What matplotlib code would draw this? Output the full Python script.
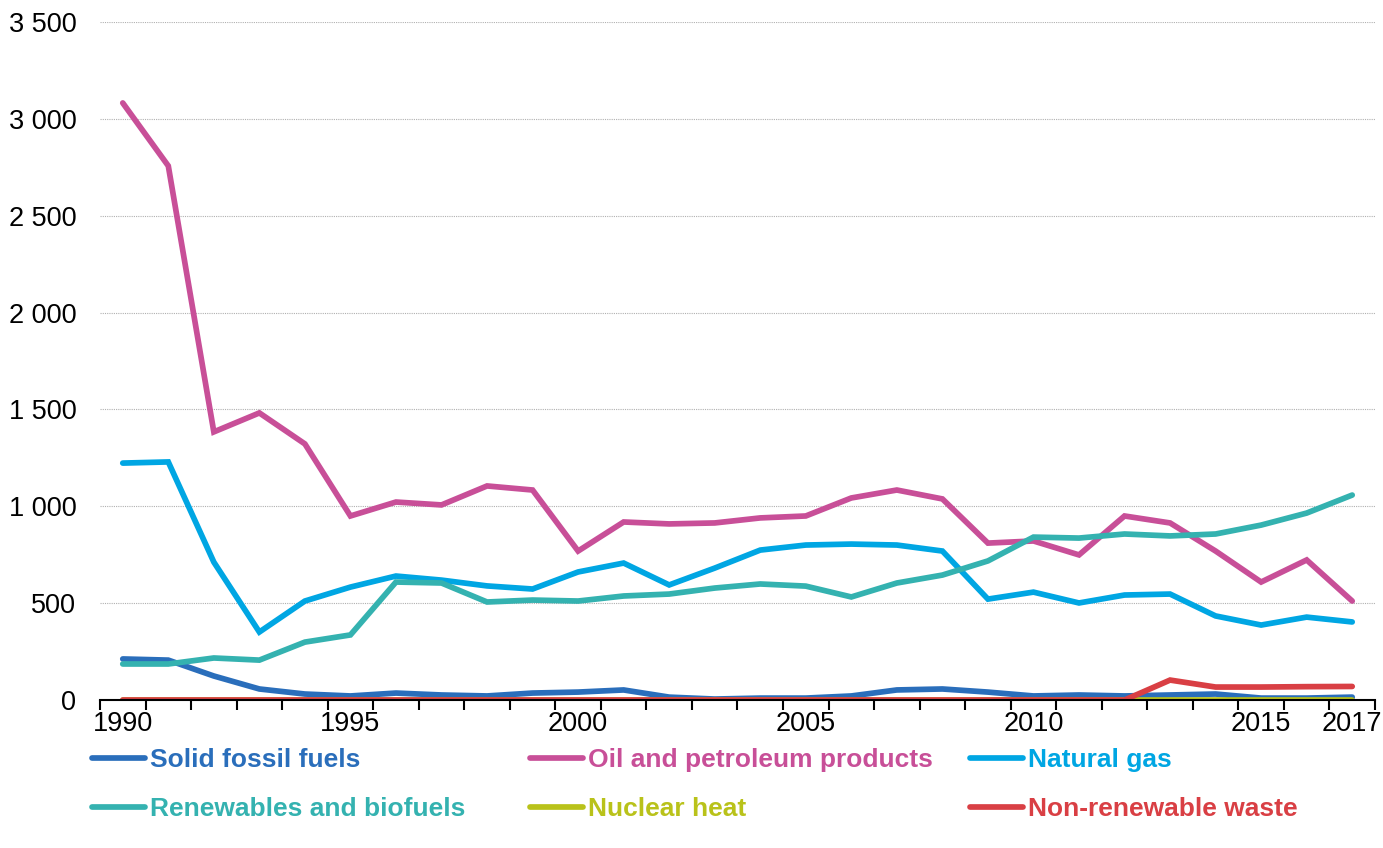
import matplotlib
matplotlib.use("Agg")
import matplotlib.pyplot as plt
from matplotlib.ticker import FuncFormatter, MultipleLocator

plt.rcParams['font.family'] = ['Liberation Sans', 'DejaVu Sans']

years = list(range(1990, 2018))

solid_fossil = [212, 206, 124, 57, 31, 21, 36, 26, 21, 36, 41, 52, 15, 5,
                10, 10, 21, 52, 57, 41, 21, 26, 21, 26, 31, 10, 10, 15]
oil = [3082, 2757, 1384, 1482, 1322, 950, 1022, 1007, 1105, 1084, 769, 919,
       909, 914, 940, 950, 1043, 1084, 1038, 810, 821, 749, 950, 914, 769,
       609, 723, 511]
natural_gas = [1223, 1229, 712, 351, 511, 583, 640, 619, 589, 573, 661, 707,
               594, 681, 774, 800, 805, 800, 769, 521, 557, 501, 542, 547,
               434, 387, 428, 403]
renewables = [186, 186, 217, 206, 299, 336, 609, 604, 506, 516, 511, 537,
              547, 578, 599, 588, 532, 604, 645, 718, 841, 836, 857, 847,
              857, 903, 965, 1058]
nuclear = [0] * 28
waste = [0] * 23 + [103, 67, 67, 69, 70]

labels = ['Solid fossil fuels', 'Oil and petroleum products', 'Natural gas',
          'Renewables and biofuels', 'Nuclear heat', 'Non-renewable waste']
colors = ['#2a6ebb', '#c84f98', '#00a6e3', '#34b2b0', '#b9c21a', '#d93f44']
series = [solid_fossil, oil, natural_gas, renewables, nuclear, waste]

fig = plt.figure(figsize=(13.83, 8.48), dpi=100)
ax = fig.add_axes([0.0723, 0.1745, 0.9219, 0.7996])

lines = []
for vals, lab, col in zip(series, labels, colors):
    ln, = ax.plot(years, vals, color=col, lw=4.1, label=lab,
                  solid_capstyle='round', solid_joinstyle='miter')
    lines.append(ln)

ax.set_xlim(1989.5, 2017.5)
ax.set_ylim(0, 3500)
ax.yaxis.set_major_locator(MultipleLocator(500))
ax.yaxis.set_major_formatter(FuncFormatter(lambda v, p: f'{int(v):,}'.replace(',', ' ')))
ax.grid(axis='y', color='#b0b0b0', linestyle=(0, (1, 1)), linewidth=0.8)
ax.set_axisbelow(True)

ax.set_xticks([1990, 1995, 2000, 2005, 2010, 2015, 2017])
ax.set_xticks([y - 0.5 for y in range(1990, 2019)], minor=True)
ax.tick_params(axis='x', which='major', length=0, pad=8, labelsize=19.5)
ax.tick_params(axis='x', which='minor', length=7, width=1.5, direction='out')
ax.tick_params(axis='y', length=0, pad=17, labelsize=19.5)

for s in ['top', 'right', 'left']:
    ax.spines[s].set_visible(False)
ax.spines['bottom'].set_linewidth(1.5)

# legend in three columns, placed one column at a time
col_x = [0.0665, 0.3832, 0.7014]
for i in range(3):
    hs = [lines[i], lines[i + 3]]
    leg = fig.legend(handles=hs, loc='upper left', bbox_to_anchor=(col_x[i], 0.118),
                     frameon=False, fontsize=19, handlelength=2.0,
                     handletextpad=0.2, labelspacing=0.95, borderaxespad=0,
                     borderpad=0)
    for t, h in zip(leg.get_texts(), hs):
        t.set_color(h.get_color())
        t.set_fontweight('bold')

fig.savefig('out.png', dpi=100)
